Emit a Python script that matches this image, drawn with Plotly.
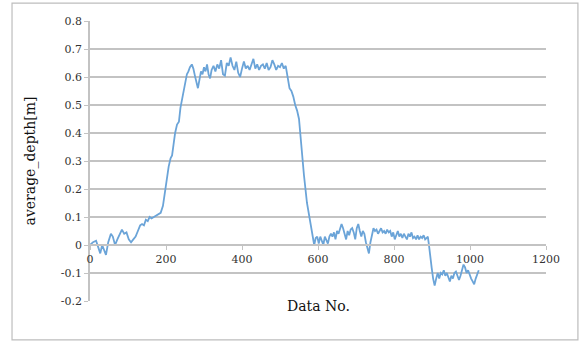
import plotly.graph_objects as go

data_no = [0, 8, 16, 22, 27, 32, 37, 42, 48, 55, 60, 66, 72, 78, 84, 90, 96, 102, 108, 114,
           120, 126, 132, 137, 142, 147, 152, 157, 162, 168, 174, 180, 186, 192, 197, 202, 207,
           212, 216, 220, 224, 229, 234, 238, 243, 247, 251, 255, 259, 263, 268, 272, 276, 280,
           284, 288, 292, 296, 300, 304, 308, 312, 316, 320, 325, 330, 335, 340, 345, 350, 355,
           360, 365, 370, 375, 380, 385, 390, 395, 400, 405, 410, 415, 420, 425, 430, 435, 440,
           445, 450, 455, 460, 465, 470, 475, 480, 485, 490, 495, 500, 505, 510, 515, 520, 525,
           530, 535, 540, 545, 550, 556, 563, 571, 579, 585, 590, 594, 598, 602, 606, 610, 614,
           618, 622, 626, 630, 634, 638, 642, 646, 650, 654, 658, 662, 666, 670, 674, 678, 682,
           686, 690, 694, 698, 702, 706, 710, 714, 718, 722, 726, 730, 734, 738, 742, 746, 750,
           754, 758, 762, 766, 770, 774, 778, 782, 786, 790, 794, 798, 802, 806, 810, 814, 818,
           822, 826, 830, 834, 838, 842, 846, 850, 854, 858, 862, 866, 870, 874, 878, 882, 886,
           889, 892, 895, 899, 903, 907, 911, 915, 919, 923, 927, 931, 935, 939, 943, 947, 951,
           955, 959, 963, 967, 971, 975, 979, 983, 987, 991, 995, 999, 1003, 1007, 1011, 1015,
           1019, 1023]

average_depth = [0.00, 0.01, 0.015, -0.01, -0.03, 0.0, -0.02, -0.035, 0.01, 0.04, 0.03, 0.0,
                 0.02, 0.04, 0.055, 0.04, 0.045, 0.02, 0.01, 0.02,
                 0.03, 0.05, 0.07, 0.075, 0.07, 0.09, 0.085, 0.10, 0.095, 0.10, 0.105, 0.11,
                 0.115, 0.14, 0.19, 0.23, 0.28,
                 0.31, 0.32, 0.36, 0.40, 0.43, 0.44, 0.49, 0.53, 0.56, 0.59, 0.61, 0.62, 0.635,
                 0.645, 0.63, 0.605, 0.58,
                 0.56, 0.59, 0.62, 0.61, 0.635, 0.62, 0.645, 0.61, 0.595, 0.625, 0.64, 0.62,
                 0.645, 0.63, 0.66, 0.61, 0.605,
                 0.65, 0.64, 0.67, 0.64, 0.625, 0.655, 0.615, 0.60, 0.63, 0.655, 0.63, 0.64,
                 0.625, 0.65, 0.665, 0.63, 0.645,
                 0.625, 0.64, 0.645, 0.63, 0.65, 0.625, 0.635, 0.66, 0.645, 0.625, 0.64, 0.635,
                 0.65, 0.63, 0.64, 0.60, 0.56,
                 0.55, 0.53, 0.50, 0.48, 0.45, 0.35, 0.25, 0.15, 0.09, 0.04, 0.0, 0.025, 0.03,
                 0.005, 0.03, 0.015, 0.0,
                 0.03, 0.02, 0.005, 0.03, 0.04, 0.03, 0.045, 0.02, 0.05, 0.04, 0.06, 0.075,
                 0.06, 0.04, 0.02, 0.05, 0.035, 0.055,
                 0.06, 0.045, 0.02, 0.06, 0.075, 0.05, 0.03, 0.05, 0.04, 0.01, -0.01, -0.03,
                 0.01, 0.04, 0.06, 0.05, 0.055,
                 0.04, 0.05, 0.06, 0.045, 0.05, 0.04, 0.055, 0.045, 0.05, 0.03, 0.045, 0.02,
                 0.04, 0.05, 0.03, 0.04, 0.025, 0.04,
                 0.03, 0.02, 0.04, 0.03, 0.045, 0.025, 0.03, 0.02, 0.035, 0.02, 0.03, 0.025,
                 0.035, 0.02, 0.025, 0.03, 0.0,
                 -0.04, -0.08, -0.12, -0.145, -0.12, -0.10, -0.12, -0.10, -0.105, -0.09, -0.11,
                 -0.10, -0.115, -0.13, -0.11, -0.12, -0.10,
                 -0.095, -0.11, -0.125, -0.11, -0.09, -0.07, -0.08, -0.10, -0.09, -0.11, -0.12,
                 -0.13, -0.14, -0.12, -0.10, -0.09,
                 -0.07, -0.08]

x_ticks = [0, 200, 400, 600, 800, 1000, 1200]
y_ticks = [-0.2, -0.1, 0, 0.1, 0.2, 0.3, 0.4, 0.5, 0.6, 0.7, 0.8]
y_tick_text = ["-0.2", "-0.1", "0", "0.1", "0.2", "0.3", "0.4", "0.5", "0.6", "0.7", "0.8"]

FONT = "DejaVu Serif"
GRID = "#c3c3c3"

fig = go.Figure()
fig.add_trace(go.Scatter(x=data_no, y=average_depth, mode="lines",
                         line=dict(color="#6ba4d8", width=1.8), showlegend=False,
                         hoverinfo="skip"))

fig.update_layout(
    width=581, height=343,
    margin=dict(l=90, r=35, t=21, b=42),
    paper_bgcolor="white", plot_bgcolor="white",
    font=dict(family=FONT, size=11, color="#333333"),
    xaxis=dict(range=[0, 1200], tickvals=x_ticks, showgrid=False, zeroline=False,
               anchor="free", position=0.2, showline=True, linecolor=GRID, linewidth=1.5,
               ticks="outside", ticklen=4, tickcolor=GRID,
               tickfont=dict(family=FONT, size=11, color="#333333")),
    yaxis=dict(range=[-0.2, 0.8], tickvals=y_ticks, ticktext=y_tick_text,
               showgrid=True, gridcolor=GRID, gridwidth=1.5, zeroline=False,
               showline=True, linecolor=GRID, linewidth=1.5,
               ticks="outside", ticklen=4, tickcolor=GRID,
               tickfont=dict(family=FONT, size=11, color="#333333"),
               title=dict(text="average_depth[m]", standoff=22,
                          font=dict(family=FONT, size=14, color="#111111"))),
    shapes=[dict(type="rect", xref="paper", yref="paper",
                 x0=-0.171, x1=1.070, y0=-0.139, y1=1.064,
                 line=dict(color="#bdbdbd", width=1.2), layer="below")],
    annotations=[dict(text="Data No.", xref="paper", yref="paper", x=0.5, y=0.0,
                      yshift=-5, yanchor="middle", showarrow=False,
                      font=dict(family=FONT, size=14, color="#111111"))],
)

fig.write_html("out.html")
